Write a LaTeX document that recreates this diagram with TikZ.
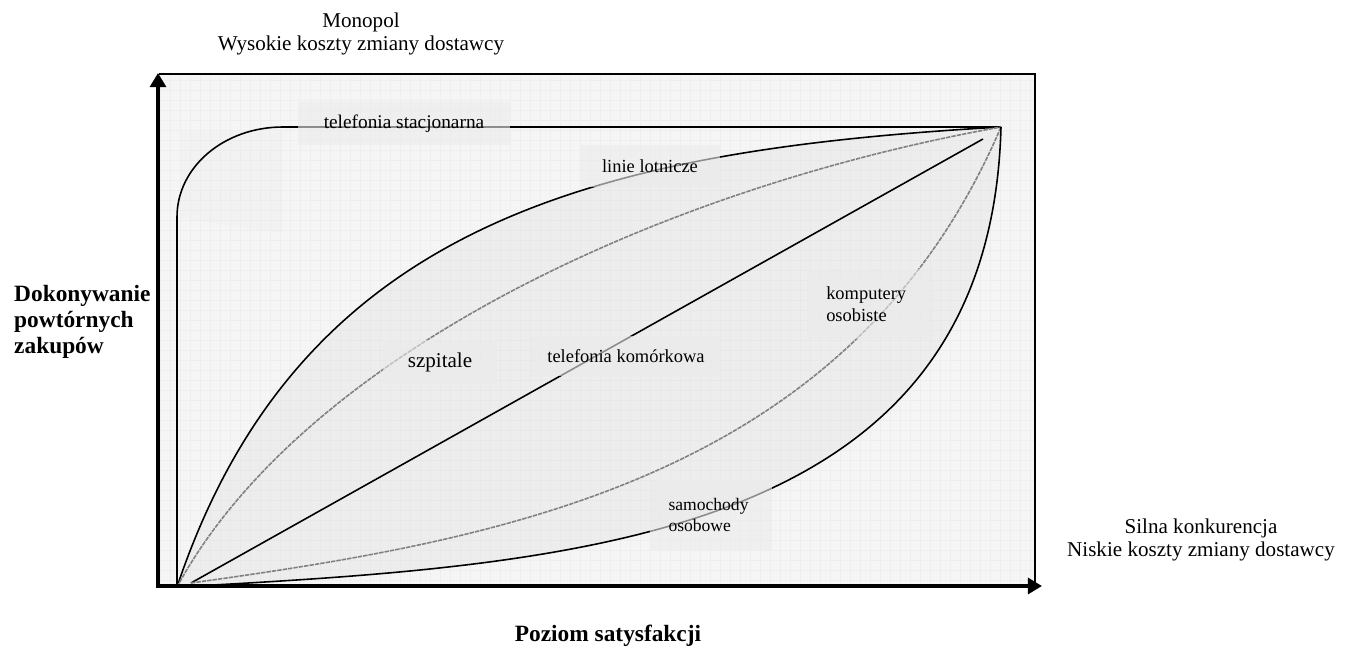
\documentclass[tikz,border=0pt]{standalone}
\usepackage{fontspec}
\setmainfont{Liberation Serif}
\usetikzlibrary{arrows.meta,positioning}

\begin{document}
\begin{tikzpicture}[
      x=0.02cm, y=-0.02cm,
      font=\fontsize{12}{14}\selectfont,
      crv/.style={line width=0.9pt, black},
      gcrv/.style={line width=0.9pt, black!50, dash pattern=on 2.5pt off 0.6pt},
      lbl/.style={fill=black!8, fill opacity=0.6, text opacity=1,
                  inner sep=0pt, align=center},
      axis/.style={line width=2.8pt, -{Triangle[length=8pt,width=9pt]}},
      ttl/.style={font=\fontsize{13.3}{14.8}\selectfont\bfseries, align=left}
    ]
    \useasboundingbox (0,0) rectangle (1350,648);

    % frame and light grid
    \fill[black!4] (159,74) rectangle (1035,586);
    \coordinate (O) at (177,587);
    \coordinate (T) at (1001,127);
    \coordinate (S) at (191,583);
    \coordinate (E) at (983,139);
    \fill[black!7] (O) .. controls (300,220) and (600,150) .. (T)
                       .. controls (990,540) and (580,565) .. (O);
    \fill[black!6, opacity=0.6] (181,132) -- (282,132) -- (282,233) -- (181,218) -- cycle;
    \draw[black!20, opacity=0.15, line width=0.25pt, step=0.2cm] (159,74) grid (1035,586);
    \draw[line width=1pt] (159,74) -- (1035,74) -- (1035,586);

    % curves
    \draw[crv] (O) -- (177,217) .. controls (177,167) and (224,127) .. (283,127) -- (T);
    \draw[crv] (O) .. controls (300,220) and (600,150) .. (T);
    \draw[gcrv] (O) .. controls (300,360) and (650,190) .. (T);
    \draw[crv] (S) -- (E);
    \draw[gcrv] (S) .. controls (500,540) and (850,480) .. (T);
    \draw[crv] (O) .. controls (580,565) and (990,540) .. (T);

    % labels
    \node[lbl, minimum width=4.24cm, minimum height=0.86cm,
          font=\fontsize{11}{13}\selectfont] (stac) at (404,124) {telefonia stacjonarna};
    \node[lbl, minimum width=2.8cm, minimum height=0.84cm,
          font=\fontsize{10.5}{12}\selectfont] (lot) at (650,166) {linie lotnicze};
    \node[lbl, minimum width=2.3cm, minimum height=0.9cm] (szp) at (440,362) {szpitale};
    \node[lbl, minimum width=3.8cm, minimum height=0.8cm,
          font=\fontsize{10.5}{12}\selectfont] (kom) at (626,356) {telefonia komórkowa};
    \node[lbl, minimum width=2.52cm, minimum height=1.4cm, text width=1.75cm, align=left,
          font=\fontsize{10.5}{12.5}\selectfont] (pc) at (870,304) {komputery\\osobiste};
    \node[lbl, minimum width=2.46cm, minimum height=1.42cm, text width=1.7cm, align=left,
          font=\fontsize{10}{11.5}\selectfont] (car) at (711,515) {samochody\\osobowe};

    % axes
    \draw[axis] (158,588) -- (158,73);
    \draw[axis] (156,586) -- (1042,586);

    \node[align=center, font=\fontsize{12}{13.6}\selectfont] (mono) at (361,34)
          {Monopol\\Wysokie koszty zmiany dostawcy};
    \node[align=center, font=\fontsize{12}{13.2}\selectfont] (konk) at (1201,540)
          {Silna konkurencja\\Niskie koszty zmiany dostawcy};
    \node[ttl, anchor=west] (yl) at (8,322) {Dokonywanie\\powtórnych\\zakupów};
    \node[ttl] (xl) at (608,636) {Poziom satysfakcji};
  \end{tikzpicture}
\end{document}
